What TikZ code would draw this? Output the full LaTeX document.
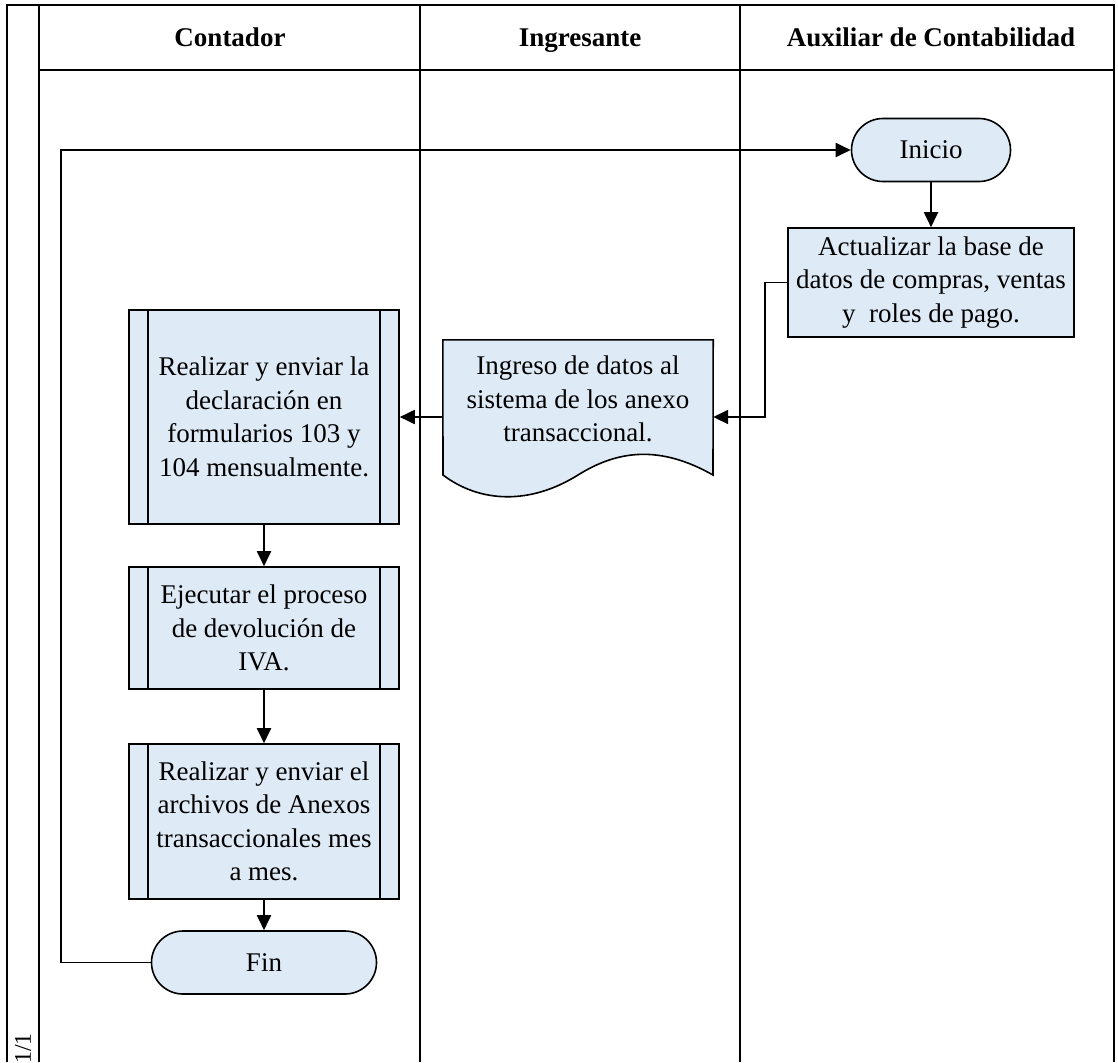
\documentclass[tikz,border=0pt]{standalone}
\usepackage{fontspec}
\setmainfont{Liberation Serif}
\usetikzlibrary{arrows.meta}
\definecolor{boxfill}{RGB}{222,234,246}
\begin{document}
\begin{tikzpicture}[x=1pt,y=-1pt,
  frame/.style={line width=2.2pt, black},
  base/.style={draw, line width=1.6pt, fill=boxfill, font=\fontsize{27}{33.5}\selectfont, align=center, inner sep=2pt},
  term/.style={base, rectangle, rounded corners=31.5pt, minimum width=159pt, minimum height=63pt},
  procbox/.style={base, minimum width=286pt, minimum height=109pt},
  subproc/.style={base, minimum width=270pt},
  flow/.style={line width=1.9pt, -{Triangle[length=15pt,width=14pt]}},
  lanehead/.style={font=\fontsize{27}{33}\selectfont\bfseries, text height=18pt, text depth=6pt, inner sep=0}
]
\useasboundingbox (0,0) rectangle (1118,1062);

% pool frame and swimlanes
\draw[frame] (7,1062) -- (7,5) -- (1114,5) -- (1114,1062);
\draw[frame] (39,5) -- (39,1062);
\draw[frame] (39,70) -- (1114,70);
\draw[frame] (420,5) -- (420,1062);
\draw[frame] (740,5) -- (740,1062);

\node[lanehead] (h1) at (230,41) {Contador};
\node[lanehead] (h2) at (580,41) {Ingresante};
\node[lanehead] (h3) at (931,41) {Auxiliar de Contabilidad};

\node[rotate=90, anchor=east, inner sep=0, font=\fontsize{24}{24}\selectfont] (pg) at (23,1033) {1/1};

% flow steps
\node[term] (ini) at (931,150) {Inicio};
\node[procbox] (act) at (931,282.5) {Actualizar la base de\\datos de compras, ventas\\y\ \ roles de pago.};

\node[minimum width=270pt, minimum height=154pt, inner sep=0] (ing) at (578,417) {};
\draw[line width=1.6pt, fill=boxfill] (ing.north west) -- (ing.north east) -- (713,475)
  .. controls (660,445) and (618,450) .. (578,475)
  .. controls (530,505) and (480,503) .. (443,475) -- cycle;
\node[font=\fontsize{27}{33.5}\selectfont, align=center] (ingt) at (578,399) {Ingreso de datos al\\sistema de los anexo\\transaccional.};

\node[subproc, minimum height=214pt] (dec) at (264,417) {Realizar y enviar la\\declaración en\\formularios 103 y\\104 mensualmente.};
\node[subproc, minimum height=122pt] (eje) at (264,628) {Ejecutar el proceso\\de devolución de\\IVA.};
\node[subproc, minimum height=155pt] (anx) at (264,821.5) {Realizar y enviar el\\archivos de Anexos\\transaccionales mes\\a mes.};
\node[term, minimum width=225pt] (fin) at (264,962.5) {Fin};

% predefined-process side bars
\foreach \n in {dec,eje,anx}{
  \draw[line width=1.6pt] ([xshift=20pt]\n.north west) -- ([xshift=20pt]\n.south west);
  \draw[line width=1.6pt] ([xshift=-20pt]\n.north east) -- ([xshift=-20pt]\n.south east);
}

% connectors
\draw[flow] (ini) -- (act);
\draw[flow] (act.west) -- ++(-22,0) |- (ing.east);
\draw[flow] (ing.west) -- (dec.east);
\draw[flow] (dec) -- (eje);
\draw[flow] (eje) -- (anx);
\draw[flow] (anx) -- (fin);
\draw[flow] (fin.west) -- ++(-90,0) |- (ini.west);
\end{tikzpicture}
\end{document}
